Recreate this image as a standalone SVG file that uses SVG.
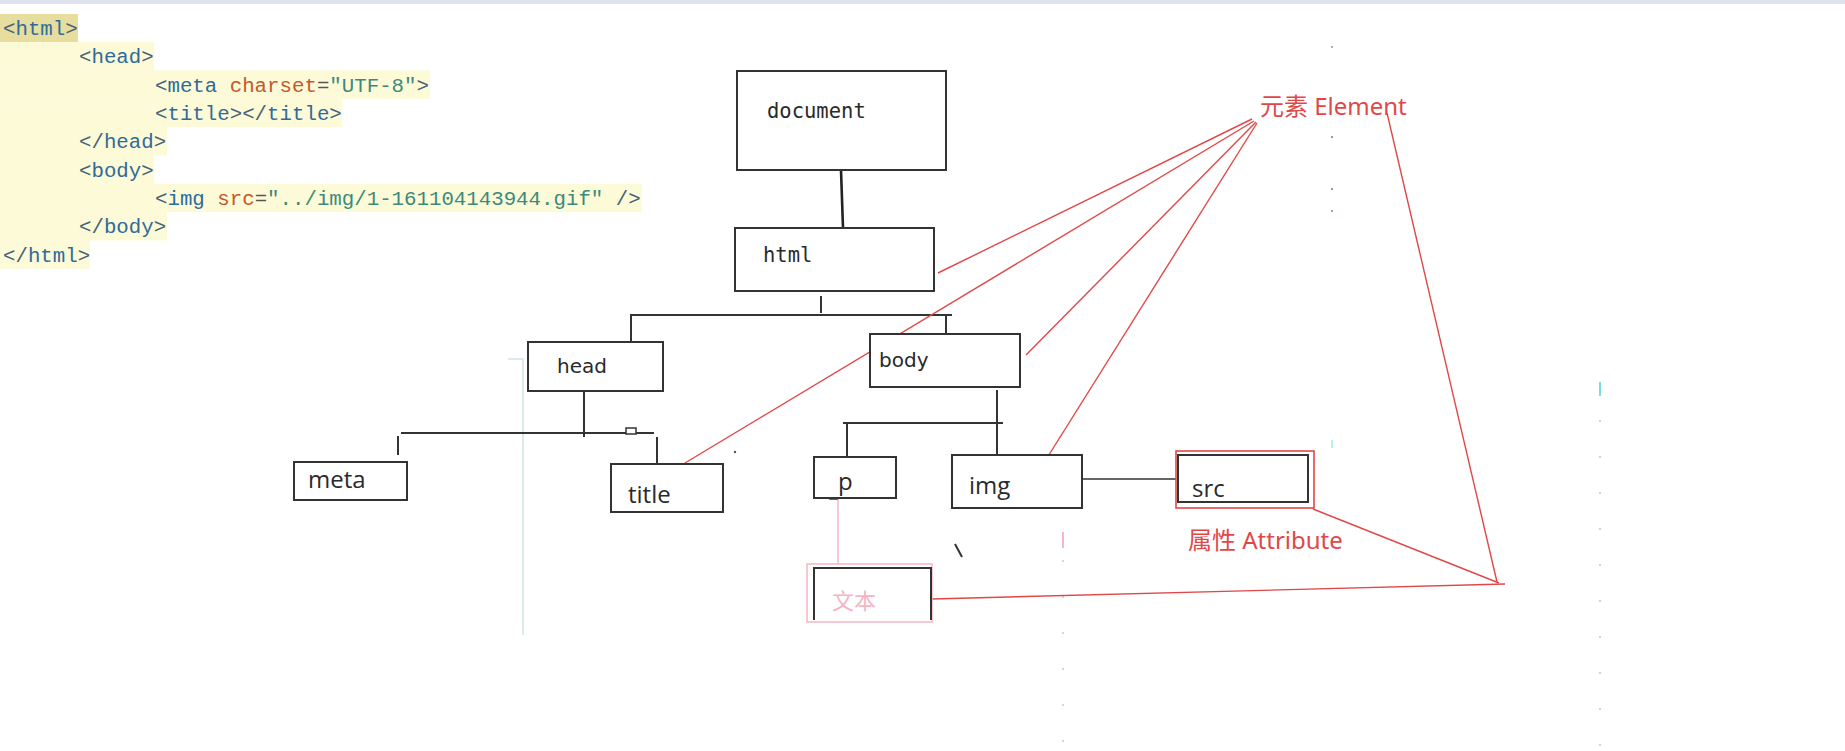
<svg xmlns="http://www.w3.org/2000/svg" width="1845" height="751" viewBox="0 0 1845 751">
<style>
.code{font-family:"Liberation Mono","DejaVu Sans Mono",monospace;font-size:20.75px;}
.b{fill:#46627a}.t{fill:#2f6b9a}.a{fill:#c4582c}.q{fill:#555}.v{fill:#3c8a7c}
.hl{fill:#fdfad8}
.box{fill:#fff;stroke:#333;stroke-width:2}
.ln{stroke:#333;stroke-width:2;fill:none}
.red{stroke:#e04848;stroke-width:1.4;fill:none}
.mono{font-family:"DejaVu Sans Mono","Liberation Mono",monospace;font-size:20.5px;fill:#2a2a2a}
.dv{font-family:"DejaVu Sans",sans-serif;font-size:20px;fill:#2a2a2a}
.os{font-family:"Open Sans","Noto Sans",sans-serif;font-size:24px;fill:#2a2a2a}
.lbl{font-family:"Noto Sans","Noto Sans CJK SC",sans-serif;font-size:24px;fill:#e04848}
.art{stroke:#cfe5e5;stroke-width:1.5;fill:none}
.dot{stroke:#bbb;stroke-width:1.2;stroke-dasharray:2 34;fill:none}
</style>
<rect x="0" y="0" width="1845" height="751" fill="#fff"/>
<rect x="0" y="0" width="1845" height="4" fill="#dde2ec"/>

<g id="code">
<rect x="0" y="14" width="78" height="28" fill="#e6dd9f"/>
<rect class="hl" x="0" y="42" width="154" height="28.5"/>
<rect class="hl" x="0" y="70.3" width="430" height="28.5"/>
<rect class="hl" x="0" y="98.7" width="342" height="28.5"/>
<rect class="hl" x="0" y="127" width="167" height="28.5"/>
<rect class="hl" x="0" y="155.3" width="154" height="28.5"/>
<rect class="hl" x="0" y="183.7" width="642" height="28.5"/>
<rect class="hl" x="0" y="212" width="167" height="28.5"/>
<rect class="hl" x="0" y="240.3" width="90" height="28.5"/>
<text class="code" x="3" y="35"><tspan class="b">&lt;</tspan><tspan class="t">html</tspan><tspan class="b">&gt;</tspan></text>
<text class="code" x="79" y="63.3"><tspan class="b">&lt;</tspan><tspan class="t">head</tspan><tspan class="b">&gt;</tspan></text>
<text class="code" x="155" y="91.6"><tspan class="b">&lt;</tspan><tspan class="t">meta</tspan><tspan class="a"> charset</tspan><tspan class="q">=</tspan><tspan class="v">"UTF-8"</tspan><tspan class="b">&gt;</tspan></text>
<text class="code" x="155" y="120"><tspan class="b">&lt;</tspan><tspan class="t">title</tspan><tspan class="b">&gt;&lt;/</tspan><tspan class="t">title</tspan><tspan class="b">&gt;</tspan></text>
<text class="code" x="79" y="148.3"><tspan class="b">&lt;/</tspan><tspan class="t">head</tspan><tspan class="b">&gt;</tspan></text>
<text class="code" x="79" y="176.6"><tspan class="b">&lt;</tspan><tspan class="t">body</tspan><tspan class="b">&gt;</tspan></text>
<text class="code" x="155" y="205"><tspan class="b">&lt;</tspan><tspan class="t">img</tspan><tspan class="a"> src</tspan><tspan class="q">=</tspan><tspan class="v">"../img/1-161104143944.gif"</tspan><tspan class="b"> /&gt;</tspan></text>
<text class="code" x="79" y="233.3"><tspan class="b">&lt;/</tspan><tspan class="t">body</tspan><tspan class="b">&gt;</tspan></text>
<text class="code" x="3" y="261.6"><tspan class="b">&lt;/</tspan><tspan class="t">html</tspan><tspan class="b">&gt;</tspan></text>
</g>

<g id="artifacts">
<path class="art" d="M508 359 H523 V635"/>
<path class="dot" d="M1063 560 V751"/>
<path d="M1063 532 V548" stroke="#f0a0b0" stroke-width="1.5"/>
<circle cx="1332" cy="47" r="1" fill="#999"/>
<circle cx="1332" cy="137" r="1" fill="#777"/>
<circle cx="1332" cy="189" r="1" fill="#777"/>
<circle cx="1332" cy="211" r="1" fill="#c66"/>
<path class="dot" d="M1600 420 V751" stroke="#cde"/>
<path d="M1600 382 V396" stroke="#7dd" stroke-width="2"/>
<path d="M1332 440 V448" stroke="#9ee" stroke-width="1.5"/>
<path d="M955 544 L962 557" stroke="#333" stroke-width="2"/>
<circle cx="735" cy="452" r="1.2" fill="#555"/>
</g>

<g id="connectors">
<path d="M841 170 L843 228" stroke="#222" stroke-width="2.6" fill="none"/>
<path class="ln" d="M821 296 V313"/>
<path class="ln" d="M630 315 H952"/>
<path class="ln" d="M631 315 V342"/>
<path class="ln" d="M946 315 V334"/>
<path class="ln" d="M584 391 V437"/>
<path class="ln" d="M401 433 H654"/>
<rect x="626" y="428" width="10" height="6" fill="#fff" stroke="#333" stroke-width="1.5"/>
<path class="ln" d="M398 436 V455"/>
<path class="ln" d="M657 437 V464"/>
<path class="ln" d="M997 390 V455"/>
<path class="ln" d="M843 423 H1003"/>
<path class="ln" d="M847 423 V457"/>
<path d="M1082 479 H1180" stroke="#333" stroke-width="1.6" fill="none"/>
<path d="M838 498 V566" stroke="#f4b8c4" stroke-width="1.5" fill="none"/>
<rect x="830" y="491" width="7" height="8" fill="none" stroke="#333" stroke-width="1.5"/>
<path class="red" d="M1252 119 L938 273"/>
<path class="red" d="M1254 121 L685 463"/>
<path class="red" d="M1256 122 L1026 355"/>
<path class="red" d="M1257 123 L1047 458"/>
<path class="red" d="M1387 113 L1497 582"/>
<path class="red" d="M1313 509 L1499 583"/>
<path class="red" d="M932 599 L1505 584"/>
</g>

<g id="node-document">
<rect class="box" x="737" y="71" width="209" height="99" stroke-width="1.8"/>
<text class="mono" x="767" y="118">document</text>
</g>
<g id="node-html">
<rect class="box" x="735" y="228" width="199" height="63" stroke-width="1.8"/>
<text class="mono" x="763" y="262">html</text>
</g>
<g id="node-head">
<rect class="box" x="528" y="342" width="135" height="49"/>
<text class="dv" x="557" y="373">head</text>
</g>
<g id="node-body">
<rect class="box" x="870" y="334" width="150" height="53"/>
<text class="dv" x="879" y="367">body</text>
</g>
<g id="node-meta">
<rect class="box" x="294" y="462" width="113" height="38"/>
<text class="os" x="308" y="488">meta</text>
</g>
<g id="node-title">
<rect class="box" x="611" y="464" width="112" height="48"/>
<text class="os" x="628" y="503">title</text>
</g>
<g id="node-p">
<rect class="box" x="814" y="457" width="82" height="41"/>
<text class="os" x="838" y="490">p</text>
</g>
<g id="node-img">
<rect class="box" x="952" y="455" width="130" height="53"/>
<text class="os" x="969" y="494">img</text>
</g>
<g id="node-src">
<rect x="1176" y="451" width="138" height="57" fill="#fff" stroke="#e04848" stroke-width="1.6"/>
<rect x="1178" y="455" width="130" height="47" fill="none" stroke="#333" stroke-width="2"/>
<text class="os" x="1192" y="497">src</text>
</g>
<g id="node-text">
<rect x="807" y="564" width="125" height="58" fill="#fff" stroke="#f4b8c4" stroke-width="1.5"/>
<path d="M814 620 V568 H931 V620" fill="none" stroke="#333" stroke-width="2"/>
<text x="832" y="609" font-family="'Noto Sans CJK SC',sans-serif" font-size="22" fill="#f5b4c4">文本</text>
</g>
<g id="label-element">
<text class="lbl" x="1260" y="115">元素 Element</text>
</g>
<g id="label-attribute">
<text class="lbl" x="1188" y="549">属性 Attribute</text>
</g>
</svg>
